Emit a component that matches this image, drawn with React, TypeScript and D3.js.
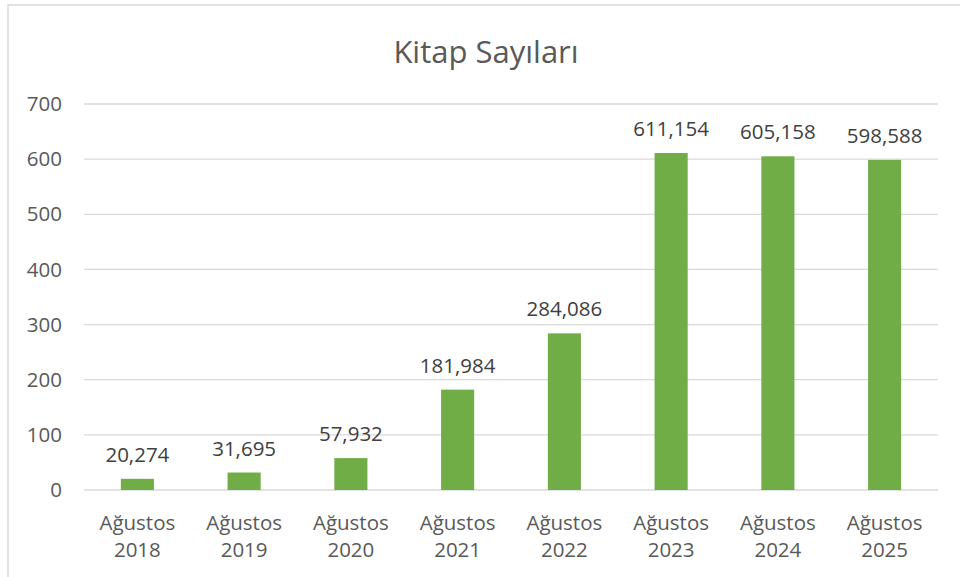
import React from "react";
import * as d3 from "d3";

const categories = ["Ağustos 2018", "Ağustos 2019", "Ağustos 2020", "Ağustos 2021", "Ağustos 2022", "Ağustos 2023", "Ağustos 2024", "Ağustos 2025"];
const values = [20.274, 31.695, 57.932, 181.984, 284.086, 611.154, 605.158, 598.588];
const yTicks = [0, 100, 200, 300, 400, 500, 600, 700];
const title = "Kitap Sayıları";

const W = 960, H = 577;
const M = { left: 84, right: 22, top: 104, bottom: 87 };
const FONT = "'Open Sans', 'Noto Sans', sans-serif";
const TEXT = "#595959";

const locale = d3.formatLocale({ decimal: ",", thousands: ".", grouping: [3], currency: ["", ""] });
const fmt = locale.format(".3f");

export default function App() {
  const x = d3.scaleBand<string>().domain(categories).range([M.left, W - M.right]).paddingInner(0.69).paddingOuter(0.345);
  const y = d3.scaleLinear().domain([0, 700]).range([H - M.bottom, M.top]);
  return (
    <svg width={W} height={H} style={{ position: "absolute", left: 0, top: 0, background: "#fff" }}>
      <rect x={8} y={5} width={W + 20} height={H + 20} fill="#fff" stroke="#d9d9d9" strokeWidth={1.5} />
      <text x={486} y={63} textAnchor="middle" fontFamily={FONT} fontSize={31} fill={TEXT}>{title}</text>
      {yTicks.map(t => (
        <g key={t}>
          <line x1={M.left} x2={W - M.right} y1={y(t)} y2={y(t)} stroke="#d9d9d9" strokeWidth={1.3} />
          <text x={62} y={y(t)} dy="0.35em" textAnchor="end" fontFamily={FONT} fontSize={20.5} fill={TEXT}>{t}</text>
        </g>
      ))}
      {categories.map((c, i) => {
        const bx = x(c)!;
        const cx = bx + x.bandwidth() / 2;
        const [l1, l2] = c.split(" ");
        return (
          <g key={c}>
            <rect x={bx} y={y(values[i])} width={x.bandwidth()} height={y(0) - y(values[i])} fill="#70AD47" />
            <text x={cx} y={y(values[i]) - 17} textAnchor="middle" fontFamily={FONT} fontSize={20.5} fill={"#404040"}>{fmt(values[i])}</text>
            <text x={cx} y={530} textAnchor="middle" fontFamily={FONT} fontSize={20.5} fill={TEXT}>{l1}</text>
            <text x={cx} y={557} textAnchor="middle" fontFamily={FONT} fontSize={20.5} fill={TEXT}>{l2}</text>
          </g>
        );
      })}
    </svg>
  );
}
